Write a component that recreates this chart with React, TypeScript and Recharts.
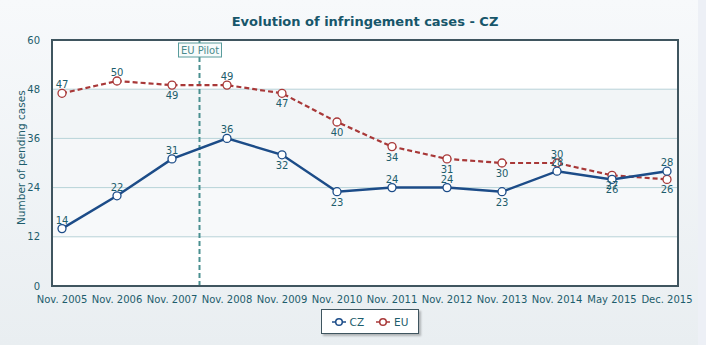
import React from 'react';
import { LineChart, Line, XAxis, YAxis, CartesianGrid, ReferenceLine, LabelList } from 'recharts';

const categories = ['Nov. 2005', 'Nov. 2006', 'Nov. 2007', 'Nov. 2008', 'Nov. 2009', 'Nov. 2010', 'Nov. 2011', 'Nov. 2012', 'Nov. 2013', 'Nov. 2014', 'May 2015', 'Dec. 2015'];
const czValues = [14, 22, 31, 36, 32, 23, 24, 24, 23, 28, 26, 28];
const euValues = [47, 50, 49, 49, 47, 40, 34, 31, 30, 30, 27, 26];
const czLabelSide = ['top', 'top', 'top', 'top', 'bottom', 'bottom', 'top', 'top', 'bottom', 'top', 'bottom', 'top'];
const euLabelSide = ['top', 'top', 'bottom', 'top', 'bottom', 'bottom', 'bottom', 'bottom', 'bottom', 'top', 'bottom', 'bottom'];
const yTicks = [0, 12, 24, 36, 48, 60];
const pilotPosition = 2.5;
const pilotLabel = 'EU Pilot';
const title = 'Evolution of infringement cases - CZ';
const yLabel = 'Number of pending cases';

const data = categories.map((c, i) => ({ idx: i, name: c, CZ: czValues[i], EU: euValues[i] }));

const TXT = '#1d5d6c';
const FONT = 'DejaVu Sans, sans-serif';
const CZ_COLOR = '#1c4c88';
const EU_COLOR = '#a83838';
const FRAME = '#3f555f';

const makeLabel = (sides: string[]) => (props: any) => {
  const { x, y, value, index } = props;
  const above = sides[index] === 'top';
  return (
    <text x={x} y={above ? y - 5 : y + 14} textAnchor="middle" fontSize={10} fontFamily={FONT} fill={TXT}>
      {value}
    </text>
  );
};

const PilotLabel = (props: any) => {
  const vb = props.viewBox || {};
  const x = vb.x;
  const y = vb.y;
  return (
    <g>
      <rect x={x - 21} y={y + 3} width={43} height={14} fill="#f7fbfb" stroke="#5a9c9c" strokeWidth={1} />
      <text x={x + 0.5} y={y + 14} textAnchor="middle" fontSize={10} fontFamily={FONT} fill="#4a8a8c">{pilotLabel}</text>
    </g>
  );
};

const LegendIcon = ({ color }: { color: string }) => (
  <svg width={14} height={10} style={{ verticalAlign: 'middle' }}>
    <line x1={0} y1={5} x2={14} y2={5} stroke={color} strokeWidth={1.5} />
    <circle cx={7} cy={5} r={3.3} fill="#fff" stroke={color} strokeWidth={1.5} />
  </svg>
);

export default function App() {
  return (
    <div style={{ position: 'absolute', left: 0, top: 0, width: 706, height: 345, background: 'linear-gradient(to bottom, #f7f9fb, #e9eef1)', overflow: 'hidden', fontFamily: FONT }}>
      <div style={{ position: 'absolute', left: 698, top: 0, width: 8, height: 345, background: '#edf0f6' }} />
      <div style={{ position: 'absolute', left: 24, top: 14, width: 682, textAlign: 'center', fontSize: 13, fontWeight: 'bold', color: '#17566a' }}>{title}</div>
      <div style={{ position: 'absolute', left: 0, top: 0 }}>
        <LineChart width={706} height={345} data={data} margin={{ top: 40, right: 28, bottom: 35, left: 0 }}>
          <CartesianGrid
            vertical={false}
            stroke="#b8d3d8"
            strokeWidth={1}
            fill="#ffffff"
            horizontalFill={['#ffffff', '#f2f5f7', '#f5f7f9', '#f7f9fa', '#ffffff']}
          />
          <XAxis
            dataKey="idx"
            type="number"
            domain={[0, categories.length - 1]}
            ticks={categories.map((_, i) => i)}
            tickFormatter={(i: number) => categories[i]}
            interval={0}
            padding={{ left: 10, right: 11 }}
            height={24}
            axisLine={false}
            tickLine={false}
            tick={{ fontSize: 10, fontFamily: FONT, fill: TXT }}
            tickMargin={4}
          />
          <YAxis
            domain={[0, 60]}
            ticks={yTicks}
            width={52}
            axisLine={false}
            tickLine={false}
            tick={{ fontSize: 10, fontFamily: FONT, fill: TXT }}
            tickMargin={6}
            label={{ value: yLabel, angle: -90, position: 'insideLeft', dx: 16, dy: 62, style: { fontSize: 10.5, fontFamily: FONT, fill: TXT } }}
          />
          <ReferenceLine x={pilotPosition} stroke="#4a9090" strokeWidth={2} strokeDasharray="5 3" label={<PilotLabel />} />
          <Line dataKey="EU" stroke={EU_COLOR} strokeWidth={2.2} strokeDasharray="5 3" isAnimationActive={false}
            dot={{ r: 4, fill: '#fff', stroke: EU_COLOR, strokeWidth: 1.3, strokeDasharray: '0' }} activeDot={false}>
            <LabelList dataKey="EU" content={makeLabel(euLabelSide)} />
          </Line>
          <Line dataKey="CZ" stroke={CZ_COLOR} strokeWidth={2.5} isAnimationActive={false}
            dot={{ r: 4, fill: '#fff', stroke: CZ_COLOR, strokeWidth: 1.3 }} activeDot={false}>
            <LabelList dataKey="CZ" content={makeLabel(czLabelSide)} />
          </Line>
        </LineChart>
      </div>
      <div style={{ position: 'absolute', left: 51, top: 39, width: 628, height: 248, boxSizing: 'border-box', border: `2.5px solid ${FRAME}`, pointerEvents: 'none' }} />
      <div style={{ position: 'absolute', left: 321, top: 309, width: 98, height: 25, boxSizing: 'border-box', border: `1px solid ${FRAME}`, background: '#fff', boxShadow: '2px 2px 2px rgba(0,0,0,0.25)', display: 'flex', alignItems: 'center', justifyContent: 'center', fontSize: 10.5, color: TXT, gap: 12 }}>
        <span style={{ display: 'flex', alignItems: 'center', gap: 4 }}><LegendIcon color={CZ_COLOR} />CZ</span>
        <span style={{ display: 'flex', alignItems: 'center', gap: 4 }}><LegendIcon color={EU_COLOR} />EU</span>
      </div>
    </div>
  );
}
